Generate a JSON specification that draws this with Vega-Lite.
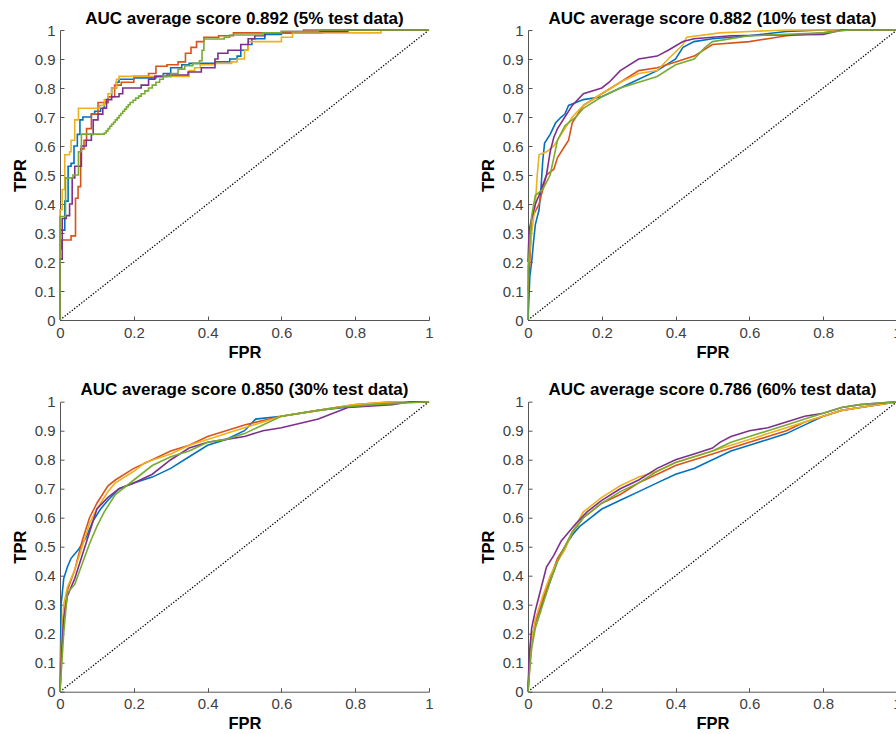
{
  "$schema": "https://vega.github.io/schema/vega-lite/v6.json",
  "padding": {"left": 12, "top": 9, "right": 0, "bottom": 0},
  "background": "white",
  "datasets": {
    "diag": [{"fpr": 0, "tpr": 0}, {"fpr": 1, "tpr": 1}],
    "roc": [
      {"panel": "a", "run": "r1", "fpr": 0, "tpr": 0},
      {"panel": "a", "run": "r1", "fpr": 0, "tpr": 0.31},
      {"panel": "a", "run": "r1", "fpr": 0.013, "tpr": 0.41},
      {"panel": "a", "run": "r1", "fpr": 0.022, "tpr": 0.53},
      {"panel": "a", "run": "r1", "fpr": 0.03, "tpr": 0.54},
      {"panel": "a", "run": "r1", "fpr": 0.038, "tpr": 0.6},
      {"panel": "a", "run": "r1", "fpr": 0.047, "tpr": 0.64},
      {"panel": "a", "run": "r1", "fpr": 0.054, "tpr": 0.69},
      {"panel": "a", "run": "r1", "fpr": 0.062, "tpr": 0.7},
      {"panel": "a", "run": "r1", "fpr": 0.085, "tpr": 0.71},
      {"panel": "a", "run": "r1", "fpr": 0.094, "tpr": 0.72},
      {"panel": "a", "run": "r1", "fpr": 0.11, "tpr": 0.73},
      {"panel": "a", "run": "r1", "fpr": 0.12, "tpr": 0.75},
      {"panel": "a", "run": "r1", "fpr": 0.13, "tpr": 0.77},
      {"panel": "a", "run": "r1", "fpr": 0.14, "tpr": 0.8},
      {"panel": "a", "run": "r1", "fpr": 0.153, "tpr": 0.82},
      {"panel": "a", "run": "r1", "fpr": 0.16, "tpr": 0.83},
      {"panel": "a", "run": "r1", "fpr": 0.2, "tpr": 0.835},
      {"panel": "a", "run": "r1", "fpr": 0.26, "tpr": 0.84},
      {"panel": "a", "run": "r1", "fpr": 0.28, "tpr": 0.85},
      {"panel": "a", "run": "r1", "fpr": 0.3, "tpr": 0.87},
      {"panel": "a", "run": "r1", "fpr": 0.33, "tpr": 0.88},
      {"panel": "a", "run": "r1", "fpr": 0.35, "tpr": 0.885},
      {"panel": "a", "run": "r1", "fpr": 0.42, "tpr": 0.89},
      {"panel": "a", "run": "r1", "fpr": 0.46, "tpr": 0.9},
      {"panel": "a", "run": "r1", "fpr": 0.48, "tpr": 0.91},
      {"panel": "a", "run": "r1", "fpr": 0.49, "tpr": 0.93},
      {"panel": "a", "run": "r1", "fpr": 0.51, "tpr": 0.95},
      {"panel": "a", "run": "r1", "fpr": 0.52, "tpr": 0.97},
      {"panel": "a", "run": "r1", "fpr": 0.555, "tpr": 0.985},
      {"panel": "a", "run": "r1", "fpr": 0.6, "tpr": 0.99},
      {"panel": "a", "run": "r1", "fpr": 0.71, "tpr": 1.0},
      {"panel": "a", "run": "r1", "fpr": 1, "tpr": 1},

      {"panel": "a", "run": "r2", "fpr": 0, "tpr": 0},
      {"panel": "a", "run": "r2", "fpr": 0, "tpr": 0.245},
      {"panel": "a", "run": "r2", "fpr": 0.003, "tpr": 0.276},
      {"panel": "a", "run": "r2", "fpr": 0.03, "tpr": 0.29},
      {"panel": "a", "run": "r2", "fpr": 0.042, "tpr": 0.42},
      {"panel": "a", "run": "r2", "fpr": 0.049, "tpr": 0.46},
      {"panel": "a", "run": "r2", "fpr": 0.056, "tpr": 0.59},
      {"panel": "a", "run": "r2", "fpr": 0.065, "tpr": 0.62},
      {"panel": "a", "run": "r2", "fpr": 0.072, "tpr": 0.66},
      {"panel": "a", "run": "r2", "fpr": 0.085, "tpr": 0.71},
      {"panel": "a", "run": "r2", "fpr": 0.103, "tpr": 0.75},
      {"panel": "a", "run": "r2", "fpr": 0.13, "tpr": 0.77},
      {"panel": "a", "run": "r2", "fpr": 0.148, "tpr": 0.81},
      {"panel": "a", "run": "r2", "fpr": 0.166, "tpr": 0.82},
      {"panel": "a", "run": "r2", "fpr": 0.2, "tpr": 0.84},
      {"panel": "a", "run": "r2", "fpr": 0.24, "tpr": 0.85},
      {"panel": "a", "run": "r2", "fpr": 0.26, "tpr": 0.875},
      {"panel": "a", "run": "r2", "fpr": 0.29, "tpr": 0.88},
      {"panel": "a", "run": "r2", "fpr": 0.32, "tpr": 0.89},
      {"panel": "a", "run": "r2", "fpr": 0.34, "tpr": 0.92},
      {"panel": "a", "run": "r2", "fpr": 0.355, "tpr": 0.94},
      {"panel": "a", "run": "r2", "fpr": 0.37, "tpr": 0.96},
      {"panel": "a", "run": "r2", "fpr": 0.39, "tpr": 0.975},
      {"panel": "a", "run": "r2", "fpr": 0.43, "tpr": 0.98},
      {"panel": "a", "run": "r2", "fpr": 0.47, "tpr": 0.99},
      {"panel": "a", "run": "r2", "fpr": 0.66, "tpr": 1.0},
      {"panel": "a", "run": "r2", "fpr": 1, "tpr": 1},

      {"panel": "a", "run": "r3", "fpr": 0, "tpr": 0},
      {"panel": "a", "run": "r3", "fpr": 0, "tpr": 0.38},
      {"panel": "a", "run": "r3", "fpr": 0.006, "tpr": 0.45},
      {"panel": "a", "run": "r3", "fpr": 0.013, "tpr": 0.57},
      {"panel": "a", "run": "r3", "fpr": 0.026, "tpr": 0.58},
      {"panel": "a", "run": "r3", "fpr": 0.03, "tpr": 0.62},
      {"panel": "a", "run": "r3", "fpr": 0.04, "tpr": 0.69},
      {"panel": "a", "run": "r3", "fpr": 0.05, "tpr": 0.73},
      {"panel": "a", "run": "r3", "fpr": 0.107, "tpr": 0.74},
      {"panel": "a", "run": "r3", "fpr": 0.12, "tpr": 0.76},
      {"panel": "a", "run": "r3", "fpr": 0.13, "tpr": 0.78},
      {"panel": "a", "run": "r3", "fpr": 0.14, "tpr": 0.8},
      {"panel": "a", "run": "r3", "fpr": 0.153, "tpr": 0.83},
      {"panel": "a", "run": "r3", "fpr": 0.16, "tpr": 0.84},
      {"panel": "a", "run": "r3", "fpr": 0.35, "tpr": 0.86},
      {"panel": "a", "run": "r3", "fpr": 0.365, "tpr": 0.87},
      {"panel": "a", "run": "r3", "fpr": 0.38, "tpr": 0.88},
      {"panel": "a", "run": "r3", "fpr": 0.42, "tpr": 0.885},
      {"panel": "a", "run": "r3", "fpr": 0.465, "tpr": 0.89},
      {"panel": "a", "run": "r3", "fpr": 0.48, "tpr": 0.9},
      {"panel": "a", "run": "r3", "fpr": 0.5, "tpr": 0.93},
      {"panel": "a", "run": "r3", "fpr": 0.51, "tpr": 0.96},
      {"panel": "a", "run": "r3", "fpr": 0.6, "tpr": 0.975},
      {"panel": "a", "run": "r3", "fpr": 0.63, "tpr": 0.99},
      {"panel": "a", "run": "r3", "fpr": 0.87, "tpr": 1.0},
      {"panel": "a", "run": "r3", "fpr": 1, "tpr": 1},

      {"panel": "a", "run": "r4", "fpr": 0, "tpr": 0},
      {"panel": "a", "run": "r4", "fpr": 0, "tpr": 0.21},
      {"panel": "a", "run": "r4", "fpr": 0.006, "tpr": 0.35},
      {"panel": "a", "run": "r4", "fpr": 0.017, "tpr": 0.36},
      {"panel": "a", "run": "r4", "fpr": 0.026, "tpr": 0.4},
      {"panel": "a", "run": "r4", "fpr": 0.033, "tpr": 0.49},
      {"panel": "a", "run": "r4", "fpr": 0.04, "tpr": 0.53},
      {"panel": "a", "run": "r4", "fpr": 0.058, "tpr": 0.6},
      {"panel": "a", "run": "r4", "fpr": 0.071, "tpr": 0.62},
      {"panel": "a", "run": "r4", "fpr": 0.085, "tpr": 0.64},
      {"panel": "a", "run": "r4", "fpr": 0.09, "tpr": 0.69},
      {"panel": "a", "run": "r4", "fpr": 0.103, "tpr": 0.71},
      {"panel": "a", "run": "r4", "fpr": 0.116, "tpr": 0.73},
      {"panel": "a", "run": "r4", "fpr": 0.126, "tpr": 0.76},
      {"panel": "a", "run": "r4", "fpr": 0.14, "tpr": 0.77},
      {"panel": "a", "run": "r4", "fpr": 0.16, "tpr": 0.78},
      {"panel": "a", "run": "r4", "fpr": 0.17, "tpr": 0.8},
      {"panel": "a", "run": "r4", "fpr": 0.22, "tpr": 0.81},
      {"panel": "a", "run": "r4", "fpr": 0.24, "tpr": 0.83},
      {"panel": "a", "run": "r4", "fpr": 0.257, "tpr": 0.84},
      {"panel": "a", "run": "r4", "fpr": 0.29, "tpr": 0.845},
      {"panel": "a", "run": "r4", "fpr": 0.347, "tpr": 0.855},
      {"panel": "a", "run": "r4", "fpr": 0.383, "tpr": 0.87},
      {"panel": "a", "run": "r4", "fpr": 0.42, "tpr": 0.9},
      {"panel": "a", "run": "r4", "fpr": 0.428, "tpr": 0.92},
      {"panel": "a", "run": "r4", "fpr": 0.455, "tpr": 0.93},
      {"panel": "a", "run": "r4", "fpr": 0.49, "tpr": 0.95},
      {"panel": "a", "run": "r4", "fpr": 0.51, "tpr": 0.97},
      {"panel": "a", "run": "r4", "fpr": 0.528, "tpr": 0.98},
      {"panel": "a", "run": "r4", "fpr": 0.555, "tpr": 0.99},
      {"panel": "a", "run": "r4", "fpr": 0.6, "tpr": 0.995},
      {"panel": "a", "run": "r4", "fpr": 0.78, "tpr": 1.0},
      {"panel": "a", "run": "r4", "fpr": 1, "tpr": 1},

      {"panel": "a", "run": "r5", "fpr": 0, "tpr": 0},
      {"panel": "a", "run": "r5", "fpr": 0, "tpr": 0.357},
      {"panel": "a", "run": "r5", "fpr": 0.015, "tpr": 0.49},
      {"panel": "a", "run": "r5", "fpr": 0.035, "tpr": 0.5},
      {"panel": "a", "run": "r5", "fpr": 0.05, "tpr": 0.58},
      {"panel": "a", "run": "r5", "fpr": 0.058, "tpr": 0.641},
      {"panel": "a", "run": "r5", "fpr": 0.12, "tpr": 0.645},
      {"panel": "a", "run": "r5", "fpr": 0.125, "tpr": 0.652},
      {"panel": "a", "run": "r5", "fpr": 0.13, "tpr": 0.66},
      {"panel": "a", "run": "r5", "fpr": 0.135, "tpr": 0.668},
      {"panel": "a", "run": "r5", "fpr": 0.14, "tpr": 0.675},
      {"panel": "a", "run": "r5", "fpr": 0.145, "tpr": 0.682},
      {"panel": "a", "run": "r5", "fpr": 0.15, "tpr": 0.69},
      {"panel": "a", "run": "r5", "fpr": 0.155, "tpr": 0.697},
      {"panel": "a", "run": "r5", "fpr": 0.16, "tpr": 0.705},
      {"panel": "a", "run": "r5", "fpr": 0.165, "tpr": 0.712},
      {"panel": "a", "run": "r5", "fpr": 0.17, "tpr": 0.72},
      {"panel": "a", "run": "r5", "fpr": 0.175, "tpr": 0.727},
      {"panel": "a", "run": "r5", "fpr": 0.18, "tpr": 0.735},
      {"panel": "a", "run": "r5", "fpr": 0.185, "tpr": 0.742},
      {"panel": "a", "run": "r5", "fpr": 0.19, "tpr": 0.75},
      {"panel": "a", "run": "r5", "fpr": 0.198, "tpr": 0.758},
      {"panel": "a", "run": "r5", "fpr": 0.205, "tpr": 0.765},
      {"panel": "a", "run": "r5", "fpr": 0.213, "tpr": 0.772},
      {"panel": "a", "run": "r5", "fpr": 0.22, "tpr": 0.78},
      {"panel": "a", "run": "r5", "fpr": 0.23, "tpr": 0.79},
      {"panel": "a", "run": "r5", "fpr": 0.24, "tpr": 0.8},
      {"panel": "a", "run": "r5", "fpr": 0.25, "tpr": 0.81},
      {"panel": "a", "run": "r5", "fpr": 0.26, "tpr": 0.82},
      {"panel": "a", "run": "r5", "fpr": 0.27, "tpr": 0.83},
      {"panel": "a", "run": "r5", "fpr": 0.28, "tpr": 0.84},
      {"panel": "a", "run": "r5", "fpr": 0.3, "tpr": 0.85},
      {"panel": "a", "run": "r5", "fpr": 0.32, "tpr": 0.865},
      {"panel": "a", "run": "r5", "fpr": 0.338, "tpr": 0.877},
      {"panel": "a", "run": "r5", "fpr": 0.36, "tpr": 0.885},
      {"panel": "a", "run": "r5", "fpr": 0.378, "tpr": 0.894},
      {"panel": "a", "run": "r5", "fpr": 0.385, "tpr": 0.93},
      {"panel": "a", "run": "r5", "fpr": 0.39, "tpr": 0.969},
      {"panel": "a", "run": "r5", "fpr": 0.445, "tpr": 0.975},
      {"panel": "a", "run": "r5", "fpr": 0.46, "tpr": 0.983},
      {"panel": "a", "run": "r5", "fpr": 0.55, "tpr": 0.99},
      {"panel": "a", "run": "r5", "fpr": 0.6, "tpr": 0.995},
      {"panel": "a", "run": "r5", "fpr": 0.7, "tpr": 1.0},
      {"panel": "a", "run": "r5", "fpr": 1, "tpr": 1},

      {"panel": "b", "run": "r1", "fpr": 0, "tpr": 0},
      {"panel": "b", "run": "r1", "fpr": 0.005, "tpr": 0.15},
      {"panel": "b", "run": "r1", "fpr": 0.01, "tpr": 0.2},
      {"panel": "b", "run": "r1", "fpr": 0.015, "tpr": 0.27},
      {"panel": "b", "run": "r1", "fpr": 0.02, "tpr": 0.33},
      {"panel": "b", "run": "r1", "fpr": 0.03, "tpr": 0.38},
      {"panel": "b", "run": "r1", "fpr": 0.035, "tpr": 0.45},
      {"panel": "b", "run": "r1", "fpr": 0.04, "tpr": 0.55},
      {"panel": "b", "run": "r1", "fpr": 0.045, "tpr": 0.61},
      {"panel": "b", "run": "r1", "fpr": 0.06, "tpr": 0.64},
      {"panel": "b", "run": "r1", "fpr": 0.075, "tpr": 0.68},
      {"panel": "b", "run": "r1", "fpr": 0.09, "tpr": 0.7},
      {"panel": "b", "run": "r1", "fpr": 0.1, "tpr": 0.71},
      {"panel": "b", "run": "r1", "fpr": 0.11, "tpr": 0.74},
      {"panel": "b", "run": "r1", "fpr": 0.15, "tpr": 0.76},
      {"panel": "b", "run": "r1", "fpr": 0.2, "tpr": 0.77},
      {"panel": "b", "run": "r1", "fpr": 0.25, "tpr": 0.8},
      {"panel": "b", "run": "r1", "fpr": 0.3, "tpr": 0.83},
      {"panel": "b", "run": "r1", "fpr": 0.35, "tpr": 0.86},
      {"panel": "b", "run": "r1", "fpr": 0.4, "tpr": 0.9},
      {"panel": "b", "run": "r1", "fpr": 0.42, "tpr": 0.94},
      {"panel": "b", "run": "r1", "fpr": 0.45, "tpr": 0.96},
      {"panel": "b", "run": "r1", "fpr": 0.5, "tpr": 0.97},
      {"panel": "b", "run": "r1", "fpr": 0.6, "tpr": 0.98},
      {"panel": "b", "run": "r1", "fpr": 0.7, "tpr": 0.995},
      {"panel": "b", "run": "r1", "fpr": 0.8, "tpr": 1.0},
      {"panel": "b", "run": "r1", "fpr": 1, "tpr": 1},

      {"panel": "b", "run": "r2", "fpr": 0, "tpr": 0.1},
      {"panel": "b", "run": "r2", "fpr": 0.005, "tpr": 0.2},
      {"panel": "b", "run": "r2", "fpr": 0.01, "tpr": 0.35},
      {"panel": "b", "run": "r2", "fpr": 0.03, "tpr": 0.4},
      {"panel": "b", "run": "r2", "fpr": 0.05, "tpr": 0.5},
      {"panel": "b", "run": "r2", "fpr": 0.07, "tpr": 0.52},
      {"panel": "b", "run": "r2", "fpr": 0.08, "tpr": 0.56},
      {"panel": "b", "run": "r2", "fpr": 0.1, "tpr": 0.6},
      {"panel": "b", "run": "r2", "fpr": 0.11, "tpr": 0.62},
      {"panel": "b", "run": "r2", "fpr": 0.12, "tpr": 0.68},
      {"panel": "b", "run": "r2", "fpr": 0.15, "tpr": 0.74},
      {"panel": "b", "run": "r2", "fpr": 0.2, "tpr": 0.78},
      {"panel": "b", "run": "r2", "fpr": 0.25, "tpr": 0.82},
      {"panel": "b", "run": "r2", "fpr": 0.3, "tpr": 0.86},
      {"panel": "b", "run": "r2", "fpr": 0.35, "tpr": 0.87},
      {"panel": "b", "run": "r2", "fpr": 0.4, "tpr": 0.89},
      {"panel": "b", "run": "r2", "fpr": 0.45, "tpr": 0.91},
      {"panel": "b", "run": "r2", "fpr": 0.5, "tpr": 0.95},
      {"panel": "b", "run": "r2", "fpr": 0.6, "tpr": 0.96},
      {"panel": "b", "run": "r2", "fpr": 0.65, "tpr": 0.97},
      {"panel": "b", "run": "r2", "fpr": 0.7, "tpr": 0.98},
      {"panel": "b", "run": "r2", "fpr": 0.8, "tpr": 0.99},
      {"panel": "b", "run": "r2", "fpr": 0.85, "tpr": 1.0},
      {"panel": "b", "run": "r2", "fpr": 1, "tpr": 1},

      {"panel": "b", "run": "r3", "fpr": 0, "tpr": 0.18},
      {"panel": "b", "run": "r3", "fpr": 0.01, "tpr": 0.3},
      {"panel": "b", "run": "r3", "fpr": 0.02, "tpr": 0.4},
      {"panel": "b", "run": "r3", "fpr": 0.025, "tpr": 0.5},
      {"panel": "b", "run": "r3", "fpr": 0.03, "tpr": 0.57},
      {"panel": "b", "run": "r3", "fpr": 0.05, "tpr": 0.58},
      {"panel": "b", "run": "r3", "fpr": 0.07, "tpr": 0.6},
      {"panel": "b", "run": "r3", "fpr": 0.09, "tpr": 0.64},
      {"panel": "b", "run": "r3", "fpr": 0.12, "tpr": 0.7},
      {"panel": "b", "run": "r3", "fpr": 0.15, "tpr": 0.74},
      {"panel": "b", "run": "r3", "fpr": 0.2, "tpr": 0.78},
      {"panel": "b", "run": "r3", "fpr": 0.25, "tpr": 0.82},
      {"panel": "b", "run": "r3", "fpr": 0.3, "tpr": 0.85},
      {"panel": "b", "run": "r3", "fpr": 0.35, "tpr": 0.86},
      {"panel": "b", "run": "r3", "fpr": 0.38, "tpr": 0.9},
      {"panel": "b", "run": "r3", "fpr": 0.42, "tpr": 0.95},
      {"panel": "b", "run": "r3", "fpr": 0.43, "tpr": 0.975},
      {"panel": "b", "run": "r3", "fpr": 0.52, "tpr": 0.99},
      {"panel": "b", "run": "r3", "fpr": 0.6, "tpr": 0.995},
      {"panel": "b", "run": "r3", "fpr": 0.7, "tpr": 1.0},
      {"panel": "b", "run": "r3", "fpr": 1, "tpr": 1},

      {"panel": "b", "run": "r4", "fpr": 0, "tpr": 0.2},
      {"panel": "b", "run": "r4", "fpr": 0.003, "tpr": 0.31},
      {"panel": "b", "run": "r4", "fpr": 0.01, "tpr": 0.35},
      {"panel": "b", "run": "r4", "fpr": 0.02, "tpr": 0.4},
      {"panel": "b", "run": "r4", "fpr": 0.03, "tpr": 0.43},
      {"panel": "b", "run": "r4", "fpr": 0.05, "tpr": 0.5},
      {"panel": "b", "run": "r4", "fpr": 0.06, "tpr": 0.58},
      {"panel": "b", "run": "r4", "fpr": 0.07, "tpr": 0.63},
      {"panel": "b", "run": "r4", "fpr": 0.08, "tpr": 0.66},
      {"panel": "b", "run": "r4", "fpr": 0.1, "tpr": 0.7},
      {"panel": "b", "run": "r4", "fpr": 0.12, "tpr": 0.74},
      {"panel": "b", "run": "r4", "fpr": 0.15, "tpr": 0.78},
      {"panel": "b", "run": "r4", "fpr": 0.2, "tpr": 0.8},
      {"panel": "b", "run": "r4", "fpr": 0.22, "tpr": 0.82},
      {"panel": "b", "run": "r4", "fpr": 0.25, "tpr": 0.86},
      {"panel": "b", "run": "r4", "fpr": 0.3, "tpr": 0.9},
      {"panel": "b", "run": "r4", "fpr": 0.35, "tpr": 0.91},
      {"panel": "b", "run": "r4", "fpr": 0.38, "tpr": 0.93},
      {"panel": "b", "run": "r4", "fpr": 0.42, "tpr": 0.96},
      {"panel": "b", "run": "r4", "fpr": 0.45, "tpr": 0.97},
      {"panel": "b", "run": "r4", "fpr": 0.55, "tpr": 0.98},
      {"panel": "b", "run": "r4", "fpr": 0.8, "tpr": 0.985},
      {"panel": "b", "run": "r4", "fpr": 0.85, "tpr": 1.0},
      {"panel": "b", "run": "r4", "fpr": 1, "tpr": 1},

      {"panel": "b", "run": "r5", "fpr": 0, "tpr": 0},
      {"panel": "b", "run": "r5", "fpr": 0, "tpr": 0.17},
      {"panel": "b", "run": "r5", "fpr": 0.01, "tpr": 0.36},
      {"panel": "b", "run": "r5", "fpr": 0.02, "tpr": 0.43},
      {"panel": "b", "run": "r5", "fpr": 0.04, "tpr": 0.45},
      {"panel": "b", "run": "r5", "fpr": 0.06, "tpr": 0.5},
      {"panel": "b", "run": "r5", "fpr": 0.07, "tpr": 0.56},
      {"panel": "b", "run": "r5", "fpr": 0.08, "tpr": 0.62},
      {"panel": "b", "run": "r5", "fpr": 0.1, "tpr": 0.67},
      {"panel": "b", "run": "r5", "fpr": 0.13, "tpr": 0.7},
      {"panel": "b", "run": "r5", "fpr": 0.15, "tpr": 0.73},
      {"panel": "b", "run": "r5", "fpr": 0.2, "tpr": 0.77},
      {"panel": "b", "run": "r5", "fpr": 0.25, "tpr": 0.8},
      {"panel": "b", "run": "r5", "fpr": 0.3, "tpr": 0.82},
      {"panel": "b", "run": "r5", "fpr": 0.35, "tpr": 0.84},
      {"panel": "b", "run": "r5", "fpr": 0.4, "tpr": 0.88},
      {"panel": "b", "run": "r5", "fpr": 0.45, "tpr": 0.9},
      {"panel": "b", "run": "r5", "fpr": 0.48, "tpr": 0.94},
      {"panel": "b", "run": "r5", "fpr": 0.5, "tpr": 0.96},
      {"panel": "b", "run": "r5", "fpr": 0.6, "tpr": 0.98},
      {"panel": "b", "run": "r5", "fpr": 0.8, "tpr": 0.99},
      {"panel": "b", "run": "r5", "fpr": 0.87, "tpr": 1.0},
      {"panel": "b", "run": "r5", "fpr": 1, "tpr": 1},

      {"panel": "c", "run": "r1", "fpr": 0, "tpr": 0},
      {"panel": "c", "run": "r1", "fpr": 0.003, "tpr": 0.3},
      {"panel": "c", "run": "r1", "fpr": 0.01, "tpr": 0.39},
      {"panel": "c", "run": "r1", "fpr": 0.02, "tpr": 0.43},
      {"panel": "c", "run": "r1", "fpr": 0.03, "tpr": 0.46},
      {"panel": "c", "run": "r1", "fpr": 0.05, "tpr": 0.49},
      {"panel": "c", "run": "r1", "fpr": 0.07, "tpr": 0.53},
      {"panel": "c", "run": "r1", "fpr": 0.09, "tpr": 0.59},
      {"panel": "c", "run": "r1", "fpr": 0.11, "tpr": 0.63},
      {"panel": "c", "run": "r1", "fpr": 0.13, "tpr": 0.66},
      {"panel": "c", "run": "r1", "fpr": 0.16, "tpr": 0.7},
      {"panel": "c", "run": "r1", "fpr": 0.2, "tpr": 0.72},
      {"panel": "c", "run": "r1", "fpr": 0.25, "tpr": 0.74},
      {"panel": "c", "run": "r1", "fpr": 0.3, "tpr": 0.77},
      {"panel": "c", "run": "r1", "fpr": 0.35, "tpr": 0.81},
      {"panel": "c", "run": "r1", "fpr": 0.4, "tpr": 0.85},
      {"panel": "c", "run": "r1", "fpr": 0.45, "tpr": 0.87},
      {"panel": "c", "run": "r1", "fpr": 0.5, "tpr": 0.9},
      {"panel": "c", "run": "r1", "fpr": 0.53, "tpr": 0.94},
      {"panel": "c", "run": "r1", "fpr": 0.6, "tpr": 0.95},
      {"panel": "c", "run": "r1", "fpr": 0.7, "tpr": 0.97},
      {"panel": "c", "run": "r1", "fpr": 0.77, "tpr": 0.98},
      {"panel": "c", "run": "r1", "fpr": 0.85, "tpr": 0.99},
      {"panel": "c", "run": "r1", "fpr": 0.95, "tpr": 1.0},
      {"panel": "c", "run": "r1", "fpr": 1, "tpr": 1},

      {"panel": "c", "run": "r2", "fpr": 0, "tpr": 0},
      {"panel": "c", "run": "r2", "fpr": 0.005, "tpr": 0.2},
      {"panel": "c", "run": "r2", "fpr": 0.01, "tpr": 0.26},
      {"panel": "c", "run": "r2", "fpr": 0.02, "tpr": 0.35},
      {"panel": "c", "run": "r2", "fpr": 0.04, "tpr": 0.42},
      {"panel": "c", "run": "r2", "fpr": 0.06, "tpr": 0.52},
      {"panel": "c", "run": "r2", "fpr": 0.08, "tpr": 0.6},
      {"panel": "c", "run": "r2", "fpr": 0.1, "tpr": 0.65},
      {"panel": "c", "run": "r2", "fpr": 0.13, "tpr": 0.71},
      {"panel": "c", "run": "r2", "fpr": 0.15, "tpr": 0.73},
      {"panel": "c", "run": "r2", "fpr": 0.2, "tpr": 0.77},
      {"panel": "c", "run": "r2", "fpr": 0.25, "tpr": 0.8},
      {"panel": "c", "run": "r2", "fpr": 0.3, "tpr": 0.83},
      {"panel": "c", "run": "r2", "fpr": 0.35, "tpr": 0.85},
      {"panel": "c", "run": "r2", "fpr": 0.4, "tpr": 0.88},
      {"panel": "c", "run": "r2", "fpr": 0.45, "tpr": 0.9},
      {"panel": "c", "run": "r2", "fpr": 0.5, "tpr": 0.92},
      {"panel": "c", "run": "r2", "fpr": 0.6, "tpr": 0.95},
      {"panel": "c", "run": "r2", "fpr": 0.7, "tpr": 0.97},
      {"panel": "c", "run": "r2", "fpr": 0.8, "tpr": 0.99},
      {"panel": "c", "run": "r2", "fpr": 0.9, "tpr": 1.0},
      {"panel": "c", "run": "r2", "fpr": 1, "tpr": 1},

      {"panel": "c", "run": "r3", "fpr": 0, "tpr": 0},
      {"panel": "c", "run": "r3", "fpr": 0.005, "tpr": 0.2},
      {"panel": "c", "run": "r3", "fpr": 0.01, "tpr": 0.3},
      {"panel": "c", "run": "r3", "fpr": 0.02, "tpr": 0.36},
      {"panel": "c", "run": "r3", "fpr": 0.04, "tpr": 0.42},
      {"panel": "c", "run": "r3", "fpr": 0.06, "tpr": 0.5},
      {"panel": "c", "run": "r3", "fpr": 0.08, "tpr": 0.58},
      {"panel": "c", "run": "r3", "fpr": 0.1, "tpr": 0.63},
      {"panel": "c", "run": "r3", "fpr": 0.13, "tpr": 0.69},
      {"panel": "c", "run": "r3", "fpr": 0.15, "tpr": 0.72},
      {"panel": "c", "run": "r3", "fpr": 0.2, "tpr": 0.76},
      {"panel": "c", "run": "r3", "fpr": 0.23, "tpr": 0.79},
      {"panel": "c", "run": "r3", "fpr": 0.3, "tpr": 0.82},
      {"panel": "c", "run": "r3", "fpr": 0.35, "tpr": 0.85},
      {"panel": "c", "run": "r3", "fpr": 0.4, "tpr": 0.87},
      {"panel": "c", "run": "r3", "fpr": 0.45, "tpr": 0.89},
      {"panel": "c", "run": "r3", "fpr": 0.5, "tpr": 0.91},
      {"panel": "c", "run": "r3", "fpr": 0.6, "tpr": 0.95},
      {"panel": "c", "run": "r3", "fpr": 0.7, "tpr": 0.97},
      {"panel": "c", "run": "r3", "fpr": 0.8, "tpr": 0.99},
      {"panel": "c", "run": "r3", "fpr": 0.9, "tpr": 1.0},
      {"panel": "c", "run": "r3", "fpr": 1, "tpr": 1},

      {"panel": "c", "run": "r4", "fpr": 0, "tpr": 0},
      {"panel": "c", "run": "r4", "fpr": 0.005, "tpr": 0.15},
      {"panel": "c", "run": "r4", "fpr": 0.01, "tpr": 0.25},
      {"panel": "c", "run": "r4", "fpr": 0.02, "tpr": 0.33},
      {"panel": "c", "run": "r4", "fpr": 0.04, "tpr": 0.39},
      {"panel": "c", "run": "r4", "fpr": 0.06, "tpr": 0.47},
      {"panel": "c", "run": "r4", "fpr": 0.08, "tpr": 0.55},
      {"panel": "c", "run": "r4", "fpr": 0.1, "tpr": 0.63},
      {"panel": "c", "run": "r4", "fpr": 0.13, "tpr": 0.67},
      {"panel": "c", "run": "r4", "fpr": 0.16, "tpr": 0.7},
      {"panel": "c", "run": "r4", "fpr": 0.2, "tpr": 0.72},
      {"panel": "c", "run": "r4", "fpr": 0.25, "tpr": 0.75},
      {"panel": "c", "run": "r4", "fpr": 0.3, "tpr": 0.8},
      {"panel": "c", "run": "r4", "fpr": 0.35, "tpr": 0.84},
      {"panel": "c", "run": "r4", "fpr": 0.4, "tpr": 0.86},
      {"panel": "c", "run": "r4", "fpr": 0.45, "tpr": 0.87},
      {"panel": "c", "run": "r4", "fpr": 0.5, "tpr": 0.88},
      {"panel": "c", "run": "r4", "fpr": 0.55, "tpr": 0.9},
      {"panel": "c", "run": "r4", "fpr": 0.6, "tpr": 0.91},
      {"panel": "c", "run": "r4", "fpr": 0.7, "tpr": 0.94},
      {"panel": "c", "run": "r4", "fpr": 0.78, "tpr": 0.98},
      {"panel": "c", "run": "r4", "fpr": 0.9, "tpr": 0.99},
      {"panel": "c", "run": "r4", "fpr": 0.95, "tpr": 1.0},
      {"panel": "c", "run": "r4", "fpr": 1, "tpr": 1},

      {"panel": "c", "run": "r5", "fpr": 0, "tpr": 0},
      {"panel": "c", "run": "r5", "fpr": 0.005, "tpr": 0.1},
      {"panel": "c", "run": "r5", "fpr": 0.01, "tpr": 0.2},
      {"panel": "c", "run": "r5", "fpr": 0.02, "tpr": 0.34},
      {"panel": "c", "run": "r5", "fpr": 0.04, "tpr": 0.37},
      {"panel": "c", "run": "r5", "fpr": 0.06, "tpr": 0.44},
      {"panel": "c", "run": "r5", "fpr": 0.08, "tpr": 0.51},
      {"panel": "c", "run": "r5", "fpr": 0.1, "tpr": 0.57},
      {"panel": "c", "run": "r5", "fpr": 0.12, "tpr": 0.62},
      {"panel": "c", "run": "r5", "fpr": 0.15, "tpr": 0.68},
      {"panel": "c", "run": "r5", "fpr": 0.2, "tpr": 0.73},
      {"panel": "c", "run": "r5", "fpr": 0.25, "tpr": 0.78},
      {"panel": "c", "run": "r5", "fpr": 0.3, "tpr": 0.81},
      {"panel": "c", "run": "r5", "fpr": 0.35, "tpr": 0.83},
      {"panel": "c", "run": "r5", "fpr": 0.4, "tpr": 0.86},
      {"panel": "c", "run": "r5", "fpr": 0.45, "tpr": 0.87},
      {"panel": "c", "run": "r5", "fpr": 0.5, "tpr": 0.89},
      {"panel": "c", "run": "r5", "fpr": 0.6, "tpr": 0.95},
      {"panel": "c", "run": "r5", "fpr": 0.7, "tpr": 0.97},
      {"panel": "c", "run": "r5", "fpr": 0.75, "tpr": 0.98},
      {"panel": "c", "run": "r5", "fpr": 0.85, "tpr": 0.99},
      {"panel": "c", "run": "r5", "fpr": 1, "tpr": 1},

      {"panel": "d", "run": "r1", "fpr": 0, "tpr": 0},
      {"panel": "d", "run": "r1", "fpr": 0.005, "tpr": 0.12},
      {"panel": "d", "run": "r1", "fpr": 0.01, "tpr": 0.18},
      {"panel": "d", "run": "r1", "fpr": 0.02, "tpr": 0.24},
      {"panel": "d", "run": "r1", "fpr": 0.04, "tpr": 0.31},
      {"panel": "d", "run": "r1", "fpr": 0.06, "tpr": 0.38},
      {"panel": "d", "run": "r1", "fpr": 0.08, "tpr": 0.45},
      {"panel": "d", "run": "r1", "fpr": 0.1, "tpr": 0.5},
      {"panel": "d", "run": "r1", "fpr": 0.12, "tpr": 0.54},
      {"panel": "d", "run": "r1", "fpr": 0.14, "tpr": 0.57},
      {"panel": "d", "run": "r1", "fpr": 0.16, "tpr": 0.59},
      {"panel": "d", "run": "r1", "fpr": 0.2, "tpr": 0.63},
      {"panel": "d", "run": "r1", "fpr": 0.25, "tpr": 0.66},
      {"panel": "d", "run": "r1", "fpr": 0.3, "tpr": 0.69},
      {"panel": "d", "run": "r1", "fpr": 0.35, "tpr": 0.72},
      {"panel": "d", "run": "r1", "fpr": 0.4, "tpr": 0.75},
      {"panel": "d", "run": "r1", "fpr": 0.45, "tpr": 0.77},
      {"panel": "d", "run": "r1", "fpr": 0.5, "tpr": 0.8},
      {"panel": "d", "run": "r1", "fpr": 0.55, "tpr": 0.83},
      {"panel": "d", "run": "r1", "fpr": 0.6, "tpr": 0.85},
      {"panel": "d", "run": "r1", "fpr": 0.65, "tpr": 0.87},
      {"panel": "d", "run": "r1", "fpr": 0.7, "tpr": 0.89},
      {"panel": "d", "run": "r1", "fpr": 0.75, "tpr": 0.92},
      {"panel": "d", "run": "r1", "fpr": 0.8, "tpr": 0.95},
      {"panel": "d", "run": "r1", "fpr": 0.85, "tpr": 0.97},
      {"panel": "d", "run": "r1", "fpr": 0.9, "tpr": 0.98},
      {"panel": "d", "run": "r1", "fpr": 1, "tpr": 1},

      {"panel": "d", "run": "r2", "fpr": 0, "tpr": 0},
      {"panel": "d", "run": "r2", "fpr": 0.005, "tpr": 0.1},
      {"panel": "d", "run": "r2", "fpr": 0.01, "tpr": 0.17},
      {"panel": "d", "run": "r2", "fpr": 0.02, "tpr": 0.24},
      {"panel": "d", "run": "r2", "fpr": 0.04, "tpr": 0.32},
      {"panel": "d", "run": "r2", "fpr": 0.06, "tpr": 0.39},
      {"panel": "d", "run": "r2", "fpr": 0.08, "tpr": 0.46},
      {"panel": "d", "run": "r2", "fpr": 0.1, "tpr": 0.5},
      {"panel": "d", "run": "r2", "fpr": 0.12, "tpr": 0.55},
      {"panel": "d", "run": "r2", "fpr": 0.15, "tpr": 0.6},
      {"panel": "d", "run": "r2", "fpr": 0.2, "tpr": 0.65},
      {"panel": "d", "run": "r2", "fpr": 0.25, "tpr": 0.68},
      {"panel": "d", "run": "r2", "fpr": 0.3, "tpr": 0.72},
      {"panel": "d", "run": "r2", "fpr": 0.35, "tpr": 0.75},
      {"panel": "d", "run": "r2", "fpr": 0.4, "tpr": 0.78},
      {"panel": "d", "run": "r2", "fpr": 0.45, "tpr": 0.8},
      {"panel": "d", "run": "r2", "fpr": 0.5, "tpr": 0.82},
      {"panel": "d", "run": "r2", "fpr": 0.55, "tpr": 0.84},
      {"panel": "d", "run": "r2", "fpr": 0.6, "tpr": 0.86},
      {"panel": "d", "run": "r2", "fpr": 0.65, "tpr": 0.88},
      {"panel": "d", "run": "r2", "fpr": 0.7, "tpr": 0.9},
      {"panel": "d", "run": "r2", "fpr": 0.75, "tpr": 0.93},
      {"panel": "d", "run": "r2", "fpr": 0.8, "tpr": 0.95},
      {"panel": "d", "run": "r2", "fpr": 0.85, "tpr": 0.97},
      {"panel": "d", "run": "r2", "fpr": 0.9, "tpr": 0.98},
      {"panel": "d", "run": "r2", "fpr": 0.95, "tpr": 0.99},
      {"panel": "d", "run": "r2", "fpr": 1, "tpr": 1},

      {"panel": "d", "run": "r3", "fpr": 0, "tpr": 0},
      {"panel": "d", "run": "r3", "fpr": 0.005, "tpr": 0.1},
      {"panel": "d", "run": "r3", "fpr": 0.01, "tpr": 0.18},
      {"panel": "d", "run": "r3", "fpr": 0.02, "tpr": 0.25},
      {"panel": "d", "run": "r3", "fpr": 0.04, "tpr": 0.33},
      {"panel": "d", "run": "r3", "fpr": 0.06, "tpr": 0.4},
      {"panel": "d", "run": "r3", "fpr": 0.08, "tpr": 0.45},
      {"panel": "d", "run": "r3", "fpr": 0.1, "tpr": 0.49},
      {"panel": "d", "run": "r3", "fpr": 0.12, "tpr": 0.55},
      {"panel": "d", "run": "r3", "fpr": 0.15, "tpr": 0.62},
      {"panel": "d", "run": "r3", "fpr": 0.2, "tpr": 0.67},
      {"panel": "d", "run": "r3", "fpr": 0.25, "tpr": 0.71},
      {"panel": "d", "run": "r3", "fpr": 0.3, "tpr": 0.74},
      {"panel": "d", "run": "r3", "fpr": 0.35, "tpr": 0.76},
      {"panel": "d", "run": "r3", "fpr": 0.4, "tpr": 0.79},
      {"panel": "d", "run": "r3", "fpr": 0.45, "tpr": 0.81},
      {"panel": "d", "run": "r3", "fpr": 0.5, "tpr": 0.83},
      {"panel": "d", "run": "r3", "fpr": 0.55, "tpr": 0.85},
      {"panel": "d", "run": "r3", "fpr": 0.6, "tpr": 0.87},
      {"panel": "d", "run": "r3", "fpr": 0.65, "tpr": 0.89},
      {"panel": "d", "run": "r3", "fpr": 0.7, "tpr": 0.91},
      {"panel": "d", "run": "r3", "fpr": 0.75, "tpr": 0.93},
      {"panel": "d", "run": "r3", "fpr": 0.8, "tpr": 0.95},
      {"panel": "d", "run": "r3", "fpr": 0.85, "tpr": 0.97},
      {"panel": "d", "run": "r3", "fpr": 0.9, "tpr": 0.98},
      {"panel": "d", "run": "r3", "fpr": 1, "tpr": 1},

      {"panel": "d", "run": "r4", "fpr": 0, "tpr": 0},
      {"panel": "d", "run": "r4", "fpr": 0.003, "tpr": 0.12},
      {"panel": "d", "run": "r4", "fpr": 0.01, "tpr": 0.22},
      {"panel": "d", "run": "r4", "fpr": 0.02, "tpr": 0.28},
      {"panel": "d", "run": "r4", "fpr": 0.03, "tpr": 0.33},
      {"panel": "d", "run": "r4", "fpr": 0.05, "tpr": 0.43},
      {"panel": "d", "run": "r4", "fpr": 0.07, "tpr": 0.47},
      {"panel": "d", "run": "r4", "fpr": 0.09, "tpr": 0.52},
      {"panel": "d", "run": "r4", "fpr": 0.11, "tpr": 0.55},
      {"panel": "d", "run": "r4", "fpr": 0.13, "tpr": 0.58},
      {"panel": "d", "run": "r4", "fpr": 0.16, "tpr": 0.62},
      {"panel": "d", "run": "r4", "fpr": 0.2, "tpr": 0.66},
      {"panel": "d", "run": "r4", "fpr": 0.25, "tpr": 0.7},
      {"panel": "d", "run": "r4", "fpr": 0.3, "tpr": 0.73},
      {"panel": "d", "run": "r4", "fpr": 0.35, "tpr": 0.77},
      {"panel": "d", "run": "r4", "fpr": 0.4, "tpr": 0.8},
      {"panel": "d", "run": "r4", "fpr": 0.45, "tpr": 0.82},
      {"panel": "d", "run": "r4", "fpr": 0.5, "tpr": 0.84},
      {"panel": "d", "run": "r4", "fpr": 0.52, "tpr": 0.86},
      {"panel": "d", "run": "r4", "fpr": 0.55, "tpr": 0.88},
      {"panel": "d", "run": "r4", "fpr": 0.6, "tpr": 0.9},
      {"panel": "d", "run": "r4", "fpr": 0.65, "tpr": 0.91},
      {"panel": "d", "run": "r4", "fpr": 0.7, "tpr": 0.93},
      {"panel": "d", "run": "r4", "fpr": 0.75, "tpr": 0.95},
      {"panel": "d", "run": "r4", "fpr": 0.8, "tpr": 0.96},
      {"panel": "d", "run": "r4", "fpr": 0.85, "tpr": 0.98},
      {"panel": "d", "run": "r4", "fpr": 0.9, "tpr": 0.99},
      {"panel": "d", "run": "r4", "fpr": 1, "tpr": 1},

      {"panel": "d", "run": "r5", "fpr": 0, "tpr": 0},
      {"panel": "d", "run": "r5", "fpr": 0.005, "tpr": 0.08},
      {"panel": "d", "run": "r5", "fpr": 0.01, "tpr": 0.15},
      {"panel": "d", "run": "r5", "fpr": 0.02, "tpr": 0.22},
      {"panel": "d", "run": "r5", "fpr": 0.04, "tpr": 0.3},
      {"panel": "d", "run": "r5", "fpr": 0.06, "tpr": 0.38},
      {"panel": "d", "run": "r5", "fpr": 0.08, "tpr": 0.45},
      {"panel": "d", "run": "r5", "fpr": 0.1, "tpr": 0.5},
      {"panel": "d", "run": "r5", "fpr": 0.12, "tpr": 0.55},
      {"panel": "d", "run": "r5", "fpr": 0.15, "tpr": 0.6},
      {"panel": "d", "run": "r5", "fpr": 0.2, "tpr": 0.65},
      {"panel": "d", "run": "r5", "fpr": 0.25, "tpr": 0.69},
      {"panel": "d", "run": "r5", "fpr": 0.3, "tpr": 0.72},
      {"panel": "d", "run": "r5", "fpr": 0.35, "tpr": 0.76},
      {"panel": "d", "run": "r5", "fpr": 0.4, "tpr": 0.79},
      {"panel": "d", "run": "r5", "fpr": 0.45, "tpr": 0.81},
      {"panel": "d", "run": "r5", "fpr": 0.5, "tpr": 0.83},
      {"panel": "d", "run": "r5", "fpr": 0.55, "tpr": 0.86},
      {"panel": "d", "run": "r5", "fpr": 0.6, "tpr": 0.88},
      {"panel": "d", "run": "r5", "fpr": 0.65, "tpr": 0.9},
      {"panel": "d", "run": "r5", "fpr": 0.7, "tpr": 0.92},
      {"panel": "d", "run": "r5", "fpr": 0.75, "tpr": 0.94},
      {"panel": "d", "run": "r5", "fpr": 0.8, "tpr": 0.96},
      {"panel": "d", "run": "r5", "fpr": 0.85, "tpr": 0.98},
      {"panel": "d", "run": "r5", "fpr": 0.9, "tpr": 0.99},
      {"panel": "d", "run": "r5", "fpr": 1, "tpr": 1}
    ]
  },
  "columns": 2,
  "bounds": "flush",
  "spacing": {"row": 81.7, "column": 99},
  "concat": [
    {
      "width": 369, "height": 290,
      "title": "AUC average score 0.892 (5% test data)",
      "encoding": {
        "x": {"field": "fpr", "type": "quantitative", "scale": {"domain": [0, 1], "nice": false}, "axis": {"title": "FPR", "values": [0, 0.2, 0.4, 0.6, 0.8, 1]}},
        "y": {"field": "tpr", "type": "quantitative", "scale": {"domain": [0, 1], "nice": false}, "axis": {"title": "TPR", "values": [0, 0.1, 0.2, 0.3, 0.4, 0.5, 0.6, 0.7, 0.8, 0.9, 1]}}
      },
      "layer": [
        {"data": {"name": "diag"}, "mark": {"type": "line", "color": "black", "strokeDash": [1.3, 1.7], "strokeWidth": 1.3}},
        {"data": {"name": "roc"}, "transform": [{"filter": "datum.panel === 'a'"}],
         "mark": {"type": "line", "interpolate": "step-after", "strokeWidth": 1.6},
         "encoding": {"color": {"field": "run", "type": "nominal", "scale": {"domain": ["r1", "r2", "r3", "r4", "r5"], "range": ["#0072BD", "#D95319", "#EDB120", "#7E2F8E", "#77AC30"]}, "legend": null},
                      "order": {"value": null}}}
      ]
    },
    {
      "width": 369, "height": 290,
      "title": "AUC average score 0.882 (10% test data)",
      "encoding": {
        "x": {"field": "fpr", "type": "quantitative", "scale": {"domain": [0, 1], "nice": false}, "axis": {"title": "FPR", "values": [0, 0.2, 0.4, 0.6, 0.8, 1]}},
        "y": {"field": "tpr", "type": "quantitative", "scale": {"domain": [0, 1], "nice": false}, "axis": {"title": "TPR", "values": [0, 0.1, 0.2, 0.3, 0.4, 0.5, 0.6, 0.7, 0.8, 0.9, 1]}}
      },
      "layer": [
        {"data": {"name": "diag"}, "mark": {"type": "line", "color": "black", "strokeDash": [1.3, 1.7], "strokeWidth": 1.3}},
        {"data": {"name": "roc"}, "transform": [{"filter": "datum.panel === 'b'"}],
         "mark": {"type": "line", "strokeWidth": 1.6},
         "encoding": {"color": {"field": "run", "type": "nominal", "scale": {"domain": ["r1", "r2", "r3", "r4", "r5"], "range": ["#0072BD", "#D95319", "#EDB120", "#7E2F8E", "#77AC30"]}, "legend": null},
                      "order": {"value": null}}}
      ]
    },
    {
      "width": 369, "height": 290,
      "title": "AUC average score 0.850 (30% test data)",
      "encoding": {
        "x": {"field": "fpr", "type": "quantitative", "scale": {"domain": [0, 1], "nice": false}, "axis": {"title": "FPR", "values": [0, 0.2, 0.4, 0.6, 0.8, 1]}},
        "y": {"field": "tpr", "type": "quantitative", "scale": {"domain": [0, 1], "nice": false}, "axis": {"title": "TPR", "values": [0, 0.1, 0.2, 0.3, 0.4, 0.5, 0.6, 0.7, 0.8, 0.9, 1]}}
      },
      "layer": [
        {"data": {"name": "diag"}, "mark": {"type": "line", "color": "black", "strokeDash": [1.3, 1.7], "strokeWidth": 1.3}},
        {"data": {"name": "roc"}, "transform": [{"filter": "datum.panel === 'c'"}],
         "mark": {"type": "line", "strokeWidth": 1.6},
         "encoding": {"color": {"field": "run", "type": "nominal", "scale": {"domain": ["r1", "r2", "r3", "r4", "r5"], "range": ["#0072BD", "#D95319", "#EDB120", "#7E2F8E", "#77AC30"]}, "legend": null},
                      "order": {"value": null}}}
      ]
    },
    {
      "width": 369, "height": 290,
      "title": "AUC average score 0.786 (60% test data)",
      "encoding": {
        "x": {"field": "fpr", "type": "quantitative", "scale": {"domain": [0, 1], "nice": false}, "axis": {"title": "FPR", "values": [0, 0.2, 0.4, 0.6, 0.8, 1]}},
        "y": {"field": "tpr", "type": "quantitative", "scale": {"domain": [0, 1], "nice": false}, "axis": {"title": "TPR", "values": [0, 0.1, 0.2, 0.3, 0.4, 0.5, 0.6, 0.7, 0.8, 0.9, 1]}}
      },
      "layer": [
        {"data": {"name": "diag"}, "mark": {"type": "line", "color": "black", "strokeDash": [1.3, 1.7], "strokeWidth": 1.3}},
        {"data": {"name": "roc"}, "transform": [{"filter": "datum.panel === 'd'"}],
         "mark": {"type": "line", "strokeWidth": 1.6},
         "encoding": {"color": {"field": "run", "type": "nominal", "scale": {"domain": ["r1", "r2", "r3", "r4", "r5"], "range": ["#0072BD", "#D95319", "#EDB120", "#7E2F8E", "#77AC30"]}, "legend": null},
                      "order": {"value": null}}}
      ]
    }
  ],
  "config": {
    "font": "Liberation Sans",
    "view": {"stroke": null},
    "title": {"fontSize": 17, "fontWeight": "bold", "color": "black", "baseline": "alphabetic", "offset": -4.5, "anchor": "middle", "frame": "group"},
    "axis": {
      "grid": false,
      "domainColor": "#555555",
      "domainWidth": 1,
      "tickColor": "#555555",
      "tickSize": -4,
      "tickWidth": 1,
      "labelPadding": 9,
      "labelFontSize": 15,
      "labelColor": "#404040",
      "labelFlush": false,
      "labelOverlap": false,
      "labelBound": false,
      "format": "~g",
      "titleFontSize": 16.5,
      "titleFontWeight": "bold",
      "titleColor": "black"
    },
    "axisX": {"titlePadding": 4},
    "axisY": {"titlePadding": 6}
  }
}
